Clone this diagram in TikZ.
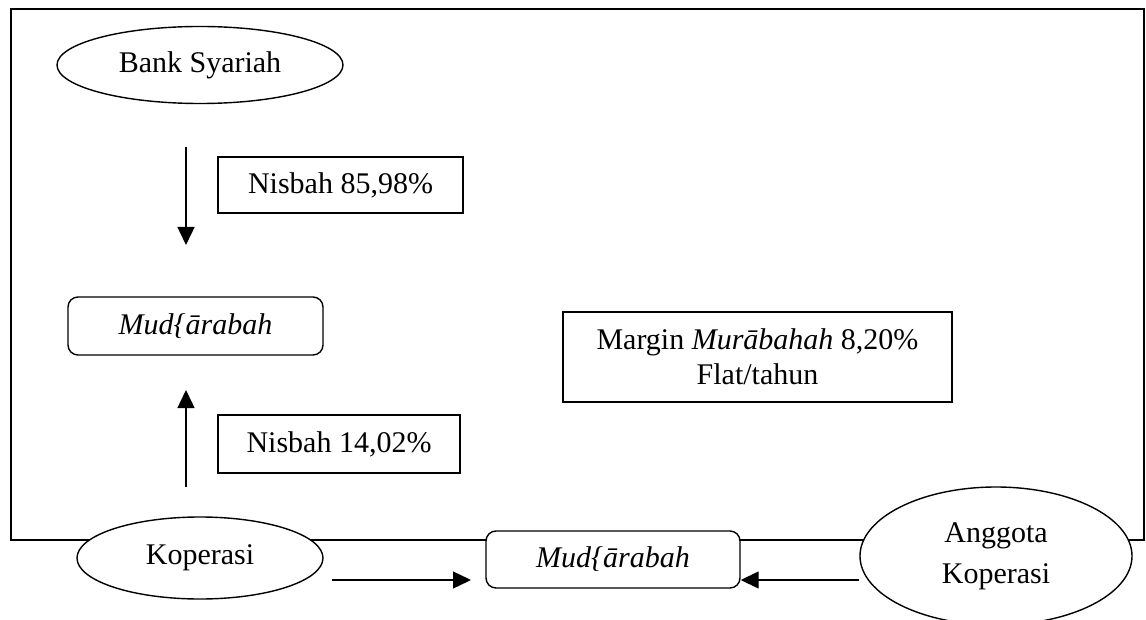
\documentclass[tikz,border=0pt]{standalone}
\usepackage{fontspec}
\setmainfont{Liberation Serif}
\usetikzlibrary{shapes.geometric,arrows.meta}
\begin{document}
\begin{tikzpicture}[x=1pt,y=-1pt,
  lw/.style={line width=1.4pt},
  txt/.style={font=\fontsize{30}{35}\selectfont},
  oval/.style={ellipse,draw,lw,fill=white,txt,inner sep=0pt},
  sqbox/.style={rectangle,draw,lw,fill=white,txt,inner sep=0pt},
  rbox/.style={rectangle,draw,lw,fill=white,txt,inner sep=0pt,rounded corners=10pt},
  arr/.style={lw,-{Triangle[width=17pt,length=18pt]}}]
\useasboundingbox (0,0) rectangle (1146,620);
\draw[lw] (11,9) rectangle (1144,540);
\node[oval,minimum width=286pt,minimum height=77pt] (bank) at (200,65) {Bank Syariah};
\node[sqbox,minimum width=245pt,minimum height=56pt] (n1) at (340.5,185) {Nisbah 85,98\%};
\node[rbox,minimum width=255pt,minimum height=58pt] (mud1) at (195.5,326) {\itshape Mud\{ārabah};
\node[sqbox,minimum width=242pt,minimum height=58pt] (n2) at (339,444) {Nisbah 14,02\%};
\node[sqbox,minimum width=389pt,minimum height=90pt,align=center] (margin) at (757.5,357) {Margin \textit{Murābahah} 8,20\%\\Flat/tahun};
\node[oval,minimum width=246pt,minimum height=82pt] (kop) at (200,558) {Koperasi};
\node[rbox,minimum width=254pt,minimum height=57pt] (mud2) at (613,559.5) {\itshape Mud\{ārabah};
\node[oval,minimum width=272pt,minimum height=138pt,align=center,font=\fontsize{30}{41}\selectfont] (ang) at (996,556) {Anggota\\Koperasi};
\coordinate (a1s) at (186,147);
\coordinate (a1e) at (186,245);
\coordinate (a2s) at (186,487);
\coordinate (a2e) at (186,390);
\coordinate (a3s) at (332,580);
\coordinate (a3e) at (471,580);
\draw[arr] (a1s) -- (a1e);
\draw[arr] (a2s) -- (a2e);
\draw[arr] (a3s) -- (a3e);
\draw[arr] (ang.west |- 0,580) -- (mud2.east |- 0,580);
\end{tikzpicture}
\end{document}
